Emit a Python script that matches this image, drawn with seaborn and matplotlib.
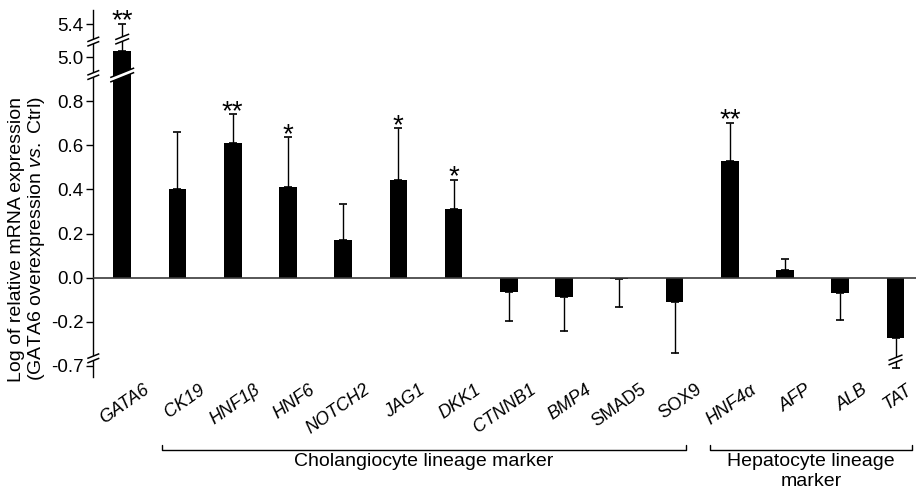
import numpy as np
import pandas as pd
import matplotlib
matplotlib.use("Agg")
import matplotlib.pyplot as plt
import matplotlib.transforms as mtransforms
from matplotlib.patches import Polygon
import seaborn as sns

# ---------------- data ----------------
genes = ["GATA6", "CK19", "HNF1β", "HNF6", "NOTCH2", "JAG1", "DKK1", "CTNNB1",
         "BMP4", "SMAD5", "SOX9", "HNF4α", "AFP", "ALB", "TAT"]
values = [5.08, 0.404, 0.612, 0.411, 0.172, 0.442, 0.313, -0.065,
          -0.088, -0.005, -0.109, 0.529, 0.033, -0.071, -0.272]
errors = [0.33, 0.255, 0.130, 0.226, 0.162, 0.235, 0.132, 0.131,
          0.152, 0.128, 0.234, 0.174, 0.052, 0.121, 0.448]
signif = ["**", "", "**", "*", "", "*", "*", "", "", "", "", "**", "", "", ""]
italic = [True, True, True, True, True, True, True, True, True, False, False,
          True, True, True, True]
yticks = [-0.7, -0.2, 0.0, 0.2, 0.4, 0.6, 0.8, 5.0, 5.4]
groups = ["Cholangiocyte lineage marker", "Hepatocyte lineage\nmarker"]
group_first = [1, 11]
group_last = [10, 14]
ylabel1 = "Log of relative mRNA expression"
ylabel2 = "(GATA6 overexpression $\\mathit{vs.}$ Ctrl)"

# ---------------- style ----------------
sns.set_style("ticks")
plt.rcParams["font.family"] = ["Liberation Sans", "DejaVu Sans"]
plt.rcParams["mathtext.fontset"] = "custom"
plt.rcParams["mathtext.rm"] = "Liberation Sans"
plt.rcParams["mathtext.it"] = "Liberation Sans:italic"
for k in ["text.color", "axes.labelcolor", "xtick.color", "ytick.color",
          "axes.edgecolor"]:
    plt.rcParams[k] = "black"

DPI = 100
W, H = 916, 493
fig = plt.figure(figsize=(W / DPI, H / DPI), dpi=DPI)
ax = fig.add_axes([93.3 / W, 1 - 376.7 / H, 1 - 93.3 / W, 366.7 / H])

df = pd.DataFrame({"gene": genes, "value": values})
sns.barplot(data=df, x="gene", y="value", order=genes, color="black",
            saturation=1, width=0.32, errorbar=None, linewidth=0, ax=ax)

# broken y-axis as a piecewise-linear scale
kv = np.array([-100.0, -0.7, -0.36, 0.8, 5.0, 100.0])
kp = np.array([-0.4 - 99.3 * 0.372, -0.4, -0.36, 0.8, 1.0, 1.0 + 95 * 0.372])


def fwd(v):
    return np.interp(v, kv, kp)


def inv(p):
    return np.interp(p, kp, kv)


ax.set_yscale("function", functions=(fwd, inv))

vals = np.array(values)
errs = np.array(errors)
lower = np.where(vals < 0, errs, 0.0)
upper = np.where(vals >= 0, errs, 0.0)
xpos = np.arange(len(genes))
ax.errorbar(xpos, vals, yerr=[lower, upper], fmt="none", ecolor="black",
            elinewidth=1.0, capsize=3, capthick=1.2, zorder=3)

ax.axhline(0, color="#3a3a3a", lw=1.2, zorder=4)

ax.set_xlim(-0.523, 14.371)
ax.set_ylim(-0.832, 5.575)
ax.set_yticks(yticks)
ax.set_yticklabels([f"{t:.1f}" for t in yticks])
ax.tick_params(axis="y", direction="out", length=5, width=1, labelsize=13.5, pad=2)
ax.tick_params(axis="x", length=0, labelsize=13, pad=0)
for s in ["top", "right", "bottom"]:
    ax.spines[s].set_visible(False)
ax.spines["left"].set_linewidth(1.0)
ax.set_xlabel("")
ax.set_ylabel("")

# x tick labels rotated (anchored at baseline end, clamped to the figure)
fig.canvas.draw()
for i, (lab, it) in enumerate(zip(ax.get_xticklabels(), italic)):
    xpix = ax.transData.transform((i, 0))[0]
    dx = min(28.0, W - 3 - xpix)
    off = mtransforms.ScaledTranslation(dx / DPI, -15 / DPI, fig.dpi_scale_trans)
    lab.set_rotation(35)
    lab.set_rotation_mode("anchor")
    lab.set_ha("right")
    lab.set_va("baseline")
    lab.set_fontstyle("italic" if it else "normal")
    lab.set_transform(lab.get_transform() + off)

# significance stars
for x, v, e, s in zip(xpos, vals, errs, signif):
    if s:
        ax.annotate(s, xy=(x, v + e), xytext=(0, -3.5), textcoords="offset points",
                    ha="center", va="baseline", fontsize=20)


# break marks
def brk(x, y, w, gap=4.5, slope=0.4):
    base = mtransforms.ScaledTranslation(x, y, ax.transData)
    tr = fig.dpi_scale_trans + base
    w_, g_ = w / DPI, gap / DPI / 2
    r = w_ * slope
    poly = Polygon([(-w_, -g_ - r), (w_, -g_ + r), (w_, g_ + r), (-w_, g_ - r)],
                   closed=True, facecolor="white", edgecolor="none",
                   transform=tr, zorder=6, clip_on=False)
    ax.add_patch(poly)
    for sgn in (-1, 1):
        ax.plot([-w_, w_], [sgn * g_ - r, sgn * g_ + r], color="black", lw=1.1,
                transform=tr, zorder=7, clip_on=False, solid_capstyle="butt")


x0 = ax.get_xlim()[0]
brk(x0, 5.19, 6)
brk(x0, 3.3, 6)
brk(x0, -0.41, 6)
brk(0, 3.3, 12)
brk(0, 5.22, 7)
brk(14, -0.47, 7)

# group brackets
btr = mtransforms.blended_transform_factory(ax.transData, ax.transAxes)
pads_l = [0.28, 0.36]
pads_r = [0.21, 0.30]
yb = -0.2
for name, a, b, pl, pr in zip(groups, group_first, group_last, pads_l, pads_r):
    xa, xb = a - pl, b + pr
    ax.plot([xa, xa, xb, xb], [yb + 0.014, yb, yb, yb + 0.014], color="black",
            lw=1.0, transform=btr, clip_on=False)
    ax.text((xa + xb) / 2, yb - 0.008, name, transform=btr, ha="center", va="top",
            fontsize=14, linespacing=1.2)

# y label (two lines)
fig.text(17 / W, 1 - 239 / H, ylabel1, rotation=90, ha="center", va="center",
         fontsize=14)
fig.text(37 / W, 1 - 239 / H, ylabel2, rotation=90, ha="center", va="center",
         fontsize=14)

fig.savefig("out.png", dpi=DPI)
